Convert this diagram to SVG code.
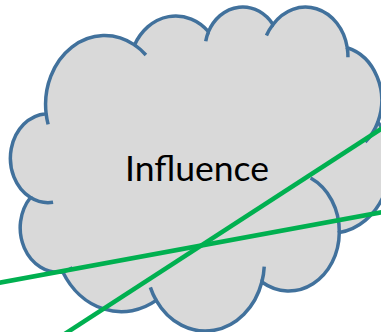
<svg xmlns="http://www.w3.org/2000/svg" width="381" height="332" viewBox="0 0 381 332">
  <style>
    .cloud { fill: #D9D9D9; stroke: #41719C; stroke-width: 3.5; }
    .tick { fill: none; stroke: #41719C; stroke-width: 3.5; }
    .label { font-family: "Lato", "Liberation Sans", sans-serif; font-size: 35px; fill: #000000; }
    .link { stroke: #00B050; stroke-width: 4.5; fill: none; }
  </style>
  <rect width="381" height="332" fill="#FFFFFF"/>
  <g id="influence">
    <g transform="translate(12,5.9) scale(0.00875,0.0075)">
      <path class="cloud" vector-effect="non-scaling-stroke" d="M 3900,14370 A 6753 9190 0 0 1 14005,5203 A 5333 7267 0 0 1 22455.8,3432.5 A 4365 5945 0 0 1 29832.7,2481.3 A 4857 6595 0 0 1 38317.9,5576.4 A 5333 7273 0 0 1 41818.2,15460.1 A 6775 9220 0 0 1 37404.1,30203.4 A 5785 7867 0 0 1 28555.8,36813.6 A 6752 9215 0 0 1 16480.3,39264.5 A 7720 10543 0 0 1 5804.7,35470.3 A 4360 5918 0 0 1 2113.3,25548.5 A 4345 5945 0 0 1 3900,14370 Z"/>
      <path class="tick" vector-effect="non-scaling-stroke" d="M 4693,26177 A 4345 5945 0 0 1 2113.3,25548.5 M 6928,34899 A 4360 5918 0 0 1 5804.7,35470.3 M 16480.3,39264.5 A 6752 9215 0 0 1 15812.5,37524.4 M 28827,34751 A 6752 9215 0 0 1 28555.8,36813.6 M 34129,22954 A 5785 7867 0 0 1 37404.1,30203.4 M 41818.2,15460.1 A 5333 7273 0 0 1 40370.4,18135.8 M 38317.9,5576.4 A 4857 6595 0 0 1 38394.3,6839.7 M 29078,3952 A 4857 6595 0 0 1 29832.7,2481.3 M 22141,4720 A 4365 5945 0 0 1 22455.8,3432.5 M 14005,5203 A 6753 9190 0 0 1 15304.6,6550.7 M 4127,15789 A 6753 9190 0 0 1 3900,14370"/>
    </g>
    <text class="label" x="197" y="180.7" text-anchor="middle" textLength="144" lengthAdjust="spacingAndGlyphs">Influence</text>
  </g>
  <g id="connectors">
    <line class="link" x1="-10" y1="284.5" x2="391" y2="210.5"/>
    <line class="link" x1="55.4" y1="340" x2="391" y2="122.5"/>
  </g>
</svg>
